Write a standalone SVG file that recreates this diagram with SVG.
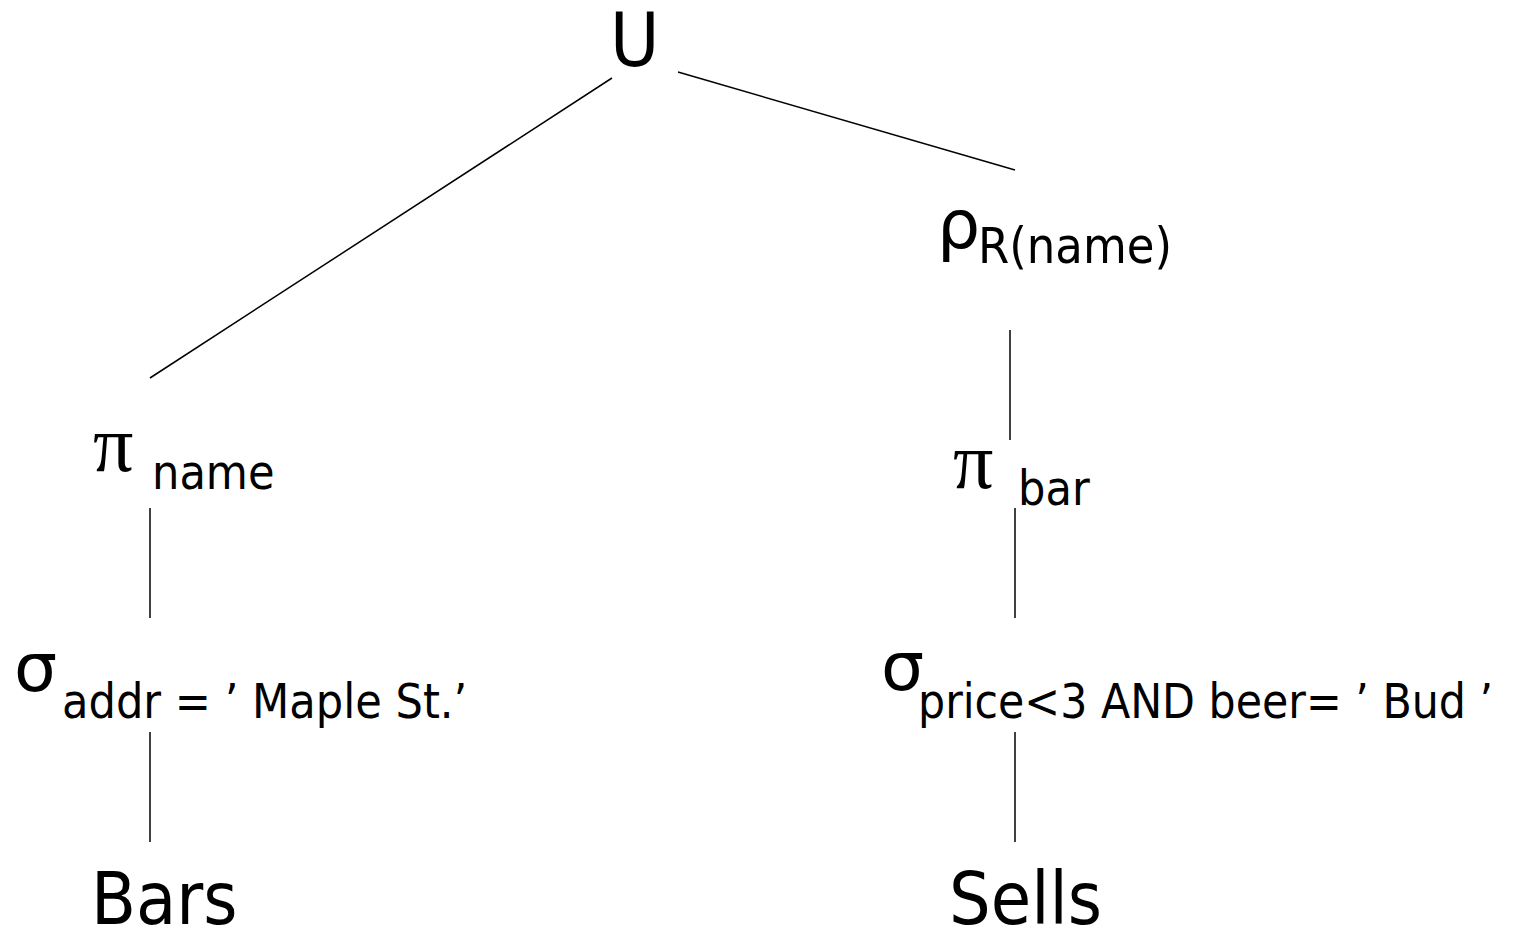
<svg xmlns="http://www.w3.org/2000/svg" width="1513" height="930" viewBox="0 0 1513 930">
<style>
.t{font-family:"DejaVu Sans Condensed","DejaVu Sans",sans-serif;fill:#000}
.g{font-family:"DejaVu Sans",sans-serif;fill:#000}
.s{font-family:"Liberation Serif",serif;fill:#000}
.sub{font-size:48px}
.big{font-size:73px}
.c{stroke:#000;stroke-width:1.5;fill:none}
</style>
<rect width="1513" height="930" fill="#fff"/>
<g id="connectors">
<line class="c" x1="612" y1="78" x2="150" y2="378"/>
<line class="c" x1="678" y1="72" x2="1015" y2="170"/>
<line class="c" x1="1010" y1="330" x2="1010" y2="440"/>
<line class="c" x1="150" y1="508" x2="150" y2="618"/>
<line class="c" x1="150" y1="732" x2="150" y2="842"/>
<line class="c" x1="1015" y1="508" x2="1015" y2="618"/>
<line class="c" x1="1015" y1="732" x2="1015" y2="842"/>
</g>
<g id="union"><text class="t" x="610" y="66" font-size="75">U</text></g>
<g id="rename"><text class="g" x="937" y="248" font-size="68">ρ</text><text class="t" x="978" y="263" font-size="50">R(name)</text></g>
<g id="proj-name"><text class="s" x="93" y="471" font-size="80">π</text><text class="t sub" x="152" y="489">name</text></g>
<g id="sel-addr"><text class="g" x="14" y="691" font-size="68">σ</text><text class="t sub" x="62" y="718">addr = ’ Maple St.’</text></g>
<g id="bars"><text class="t big" x="91" y="924">Bars</text></g>
<g id="proj-bar"><text class="s" x="953" y="488" font-size="80">π</text><text class="t sub" x="1018" y="505">bar</text></g>
<g id="sel-price"><text class="g" x="881" y="690" font-size="68">σ</text><text class="t" x="918" y="718" font-size="47.5">price&lt;3 AND beer= ’ Bud ’</text></g>
<g id="sells"><text class="t big" x="949" y="924">Sells</text></g>
</svg>
